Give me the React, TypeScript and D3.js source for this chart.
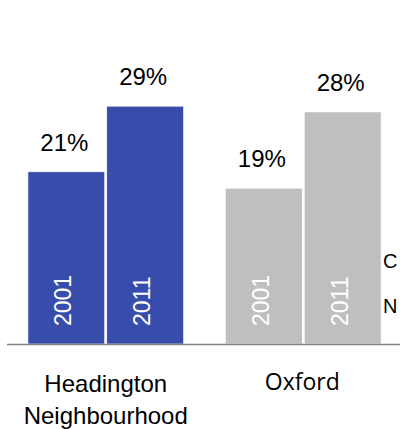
import React from "react";
import * as d3 from "d3";

const categories = ["Headington Neighbourhood", "Oxford"];
const categoryLines = [["Headington", "Neighbourhood"], ["Oxford"]];
const years = ["2001", "2011"];
const headingtonValues = [21, 29];
const oxfordValues = [19, 28.3];
const seriesColors = ["#384CAB", "#BFBFBF"];
const legendLetters = ["C", "N"];

const W = 400;
const H = 429;
const BASE = 344;

export default function App() {
  const x = d3
    .scaleBand<string>()
    .domain(categories)
    .range([7, 402])
    .paddingInner(0.212)
    .paddingOuter(0.106);
  const xi = d3
    .scaleBand<string>()
    .domain(years)
    .range([0, x.bandwidth()])
    .paddingInner(0.026);
  const y = d3.scaleLinear().domain([0, 40]).range([BASE, BASE - 328]);

  const values = [headingtonValues, oxfordValues];
  const fmt = (v: number) => `${Math.round(v)}%`;

  return (
    <svg
      width={W}
      height={H}
      style={{ position: "absolute", left: 0, top: 0, display: "block" }}
      fontFamily="'Liberation Sans', Arial, sans-serif"
    >
      <rect x={0} y={0} width={W} height={H} fill="#fff" />
      {categories.map((c, ci) => (
        <g key={c} transform={`translate(${x(c)},0)`}>
          {years.map((yr, yi) => {
            const v = values[ci][yi];
            const bx = xi(yr)!;
            const bw = xi.bandwidth();
            const cx = bx + bw / 2;
            return (
              <g key={yr}>
                <rect
                  x={bx}
                  y={y(v)}
                  width={bw}
                  height={BASE - y(v)}
                  fill={seriesColors[ci]}
                  stroke="#ffffff"
                  strokeWidth={0.6}
                />
                <text
                  x={cx - 2}
                  y={y(v) - 21}
                  textAnchor="middle"
                  fontSize={24}
                  fill="#000"
                >
                  {fmt(v)}
                </text>
                <text
                  transform={`translate(${cx + 5},326) rotate(-90)`}
                  textAnchor="start"
                  fontSize={23}
                  fill="#fff"
                >
                  {yr}
                </text>
              </g>
            );
          })}
        </g>
      ))}
      <line
        x1={x.range()[0]}
        x2={W}
        y1={BASE + 0.5}
        y2={BASE + 0.5}
        stroke="#808080"
        strokeWidth={1.5}
      />
      {categories.map((c, ci) => {
        const cx = x(c)! + x.bandwidth() / 2;
        const isOx = ci === 1;
        return (
          <text
            key={c}
            textAnchor="middle"
            fontSize={isOx ? 23 : 24}
            fontFamily={isOx ? "'Open Sans', sans-serif" : undefined}
            fill="#000"
          >
            {categoryLines[ci].map((ln, li) => (
              <tspan key={ln} x={cx - (isOx ? 1 : 0)} y={(isOx ? 390 : 392) + li * 32}>
                {ln}
              </tspan>
            ))}
          </text>
        );
      })}
      {legendLetters.map((l, i) => (
        <text key={l} x={383} y={268 + i * 45} fontSize={20} fill="#000">
          {l}
        </text>
      ))}
    </svg>
  );
}
